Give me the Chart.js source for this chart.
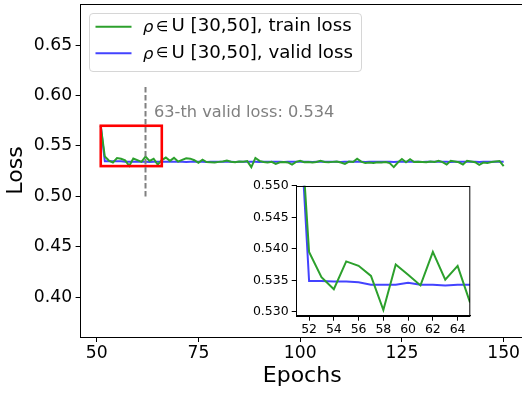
<!DOCTYPE html>
<html>
<head>
<meta charset="utf-8">
<script src="https://cdn.jsdelivr.net/npm/chart.js@4.4.0/dist/chart.umd.min.js"></script>
<style>
  html, body { margin: 0; padding: 0; background: #fff; overflow: hidden; }
  #wrap { position: relative; width: 522px; height: 393px; overflow: hidden; }
  #main { position: absolute; left: 0; top: 0; }
  #inset { position: absolute; left: 236px; top: 175px; }
</style>
</head>
<body>
<div id="wrap">
  <canvas id="main" width="530" height="393"></canvas>
  <canvas id="inset" width="244" height="162"></canvas>
</div>
<script>
// loss curves, one value per epoch starting at firstEpoch
const firstEpoch = 51;
const trainLoss = [
  0.5700, 0.5395, 0.5355, 0.5336, 0.5380, 0.5373, 0.5357, 0.5303, 0.5375, 0.5359,
  0.5342, 0.5395, 0.5351, 0.5373, 0.5315, 0.5360, 0.5385, 0.5352, 0.5382, 0.5345,
  0.5362, 0.5378, 0.5374, 0.5358, 0.5333, 0.5364, 0.5340, 0.5338, 0.5336, 0.5342,
  0.5345, 0.5355, 0.5343, 0.5338, 0.5346, 0.5344, 0.5350, 0.5290, 0.5381, 0.5352,
  0.5340, 0.5335, 0.5342, 0.5322, 0.5338, 0.5340, 0.5336, 0.5315, 0.5342, 0.5352,
  0.5338, 0.5340, 0.5336, 0.5340, 0.5353, 0.5340, 0.5338, 0.5342, 0.5345, 0.5336,
  0.5322, 0.5345, 0.5340, 0.5374, 0.5345, 0.5330, 0.5335, 0.5332, 0.5338, 0.5335,
  0.5340, 0.5330, 0.5290, 0.5336, 0.5370, 0.5338, 0.5368, 0.5340, 0.5342, 0.5340,
  0.5338, 0.5345, 0.5342, 0.5352, 0.5340, 0.5315, 0.5352, 0.5345, 0.5338, 0.5315,
  0.5352, 0.5345, 0.5338, 0.5312, 0.5335, 0.5332, 0.5340, 0.5345, 0.5350, 0.5300
];
const validLoss = [
  0.5700, 0.5349, 0.5349, 0.5348, 0.5348, 0.5347, 0.5343, 0.5343, 0.5343, 0.5346,
  0.5343, 0.5343, 0.5342, 0.5343, 0.5343, 0.5344, 0.5343, 0.5343, 0.5344, 0.5343,
  0.5343, 0.5342, 0.5343, 0.5344, 0.5343, 0.5343, 0.5342, 0.5343, 0.5343, 0.5344,
  0.5343, 0.5343, 0.5343, 0.5342, 0.5343, 0.5343, 0.5344, 0.5343, 0.5343, 0.5342,
  0.5343, 0.5344, 0.5343, 0.5343, 0.5343, 0.5342, 0.5343, 0.5343, 0.5344, 0.5343,
  0.5343, 0.5343, 0.5342, 0.5343, 0.5343, 0.5344, 0.5343, 0.5343, 0.5343, 0.5342,
  0.5343, 0.5343, 0.5344, 0.5343, 0.5343, 0.5342, 0.5343, 0.5343, 0.5343, 0.5344,
  0.5343, 0.5343, 0.5342, 0.5343, 0.5343, 0.5343, 0.5344, 0.5343, 0.5343, 0.5342,
  0.5343, 0.5343, 0.5344, 0.5343, 0.5343, 0.5343, 0.5342, 0.5343, 0.5343, 0.5344,
  0.5343, 0.5343, 0.5343, 0.5342, 0.5343, 0.5343, 0.5344, 0.5343, 0.5343, 0.5343
];
const seriesLabels = ['ρ ∈ U [30,50], train loss', 'ρ ∈ U [30,50], valid loss'];

const xTicks = [50, 75, 100, 125, 150];
const yTicks = [0.40, 0.45, 0.50, 0.55, 0.60, 0.65];
const insetXTicks = [52, 54, 56, 58, 60, 62, 64];
const insetYTicks = [0.530, 0.535, 0.540, 0.545, 0.550];

// zoom window and marker for the chosen epoch
const zoomBox = { x0: 51, x1: 66, y0: 0.53, y1: 0.57 };
const markEpoch = 62;
const markRange = [0.50, 0.61];
const markText = '63-th valid loss: 0.534';

const GREEN = '#2ca02c';
const BLUE = 'rgba(20,20,255,0.8)';
const FONT = 'DejaVu Sans';

function toPoints(values) {
  return values.map((v, i) => ({ x: firstEpoch + i, y: v }));
}

function lineSets(width) {
  return [
    { label: seriesLabels[0], data: toPoints(trainLoss), borderColor: GREEN, borderWidth: width, pointRadius: 0, tension: 0 },
    { label: seriesLabels[1], data: toPoints(validLoss), borderColor: BLUE, borderWidth: width, pointRadius: 0, tension: 0 }
  ];
}

function axis(ticks, size, pad, fmt, thickness, title) {
  return {
    type: 'linear',
    afterBuildTicks: s => { s.ticks = ticks.map(v => ({ value: v })); },
    afterFit: s => {
      if (s.isHorizontal()) s.height = thickness; else s.width = thickness;
      // keep the plot box where it is, labels may overhang
      s.paddingTop = s.paddingBottom = s.paddingLeft = s.paddingRight = 0;
    },
    ticks: { font: { family: FONT, size: size }, color: '#000', padding: pad, callback: fmt, maxRotation: 0, autoSkip: false },
    grid: { display: true, drawOnChartArea: false, drawTicks: true, tickLength: 5, color: '#000', lineWidth: 1 },
    border: { display: true, color: '#000', width: 1 },
    title: title
  };
}

// full rectangular frame round the plot area
const frame = {
  id: 'frame',
  afterDraw(chart) {
    const { ctx, chartArea: a } = chart;
    ctx.save();
    ctx.strokeStyle = '#000';
    ctx.lineWidth = 1;
    ctx.strokeRect(Math.round(a.left) - 0.5, Math.round(a.top) + 0.5, a.right - a.left, a.bottom - a.top);
    ctx.restore();
  }
};

// red box, dashed marker, annotation and legend on the main axes
const overlay = {
  id: 'overlay',
  afterDatasetsDraw(chart) {
    const { ctx, scales: { x, y } } = chart;
    ctx.save();

    ctx.strokeStyle = '#ff0000';
    ctx.lineWidth = 2.6;
    const bx = x.getPixelForValue(zoomBox.x0), by = y.getPixelForValue(zoomBox.y1);
    ctx.strokeRect(bx, by, x.getPixelForValue(zoomBox.x1) - bx, y.getPixelForValue(zoomBox.y0) - by);

    ctx.strokeStyle = '#808080';
    ctx.lineWidth = 2;
    ctx.setLineDash([5.5, 2.5]);
    ctx.beginPath();
    ctx.moveTo(x.getPixelForValue(markEpoch), y.getPixelForValue(markRange[0]));
    ctx.lineTo(x.getPixelForValue(markEpoch), y.getPixelForValue(markRange[1]));
    ctx.stroke();
    ctx.setLineDash([]);

    ctx.fillStyle = '#808080';
    ctx.font = '16.2px "' + FONT + '"';
    ctx.textBaseline = 'alphabetic';
    ctx.fillText(markText, x.getPixelForValue(markEpoch) + 8.5, 116.5);

    // legend
    const lx = 89.5, ly = 13.5, lw = 272, lh = 58;
    ctx.beginPath();
    ctx.roundRect(lx, ly, lw, lh, 3.5);
    ctx.fillStyle = 'rgba(255,255,255,0.8)';
    ctx.fill();
    ctx.strokeStyle = 'rgba(204,204,204,0.8)';
    ctx.lineWidth = 1;
    ctx.stroke();

    const colors = [GREEN, BLUE];
    seriesLabels.forEach((label, i) => {
      const ry = 26.7 + i * 26.6;
      ctx.strokeStyle = colors[i];
      ctx.lineWidth = 2;
      ctx.beginPath();
      ctx.moveTo(95.5, ry);
      ctx.lineTo(131.5, ry);
      ctx.stroke();
      ctx.fillStyle = '#000';
      ctx.textBaseline = 'middle';
      const parts = label.split(' ');
      // ρ and ∈ set like math symbols, then the plain text
      ctx.font = 'italic 16.4px "' + FONT + '"';
      ctx.fillText(parts[0], 143, ry + 1);
      ctx.font = '14px "' + FONT + '"';
      ctx.fillText(parts[1], 156, ry + 0.5);
      ctx.font = '18.2px "' + FONT + '"';
      ctx.fillText(parts.slice(2).join(' '), 171.5, ry);
    });
    ctx.restore();
  }
};

new Chart(document.getElementById('main'), {
  type: 'line',
  data: { datasets: lineSets(2) },
  options: {
    responsive: false,
    animation: false,
    devicePixelRatio: 1,
    layout: { padding: { top: 4, right: 6.2, left: 0, bottom: 0 } },
    plugins: { legend: { display: false }, tooltip: { enabled: false } },
    scales: {
      x: Object.assign(axis(xTicks, 17.2, 1, v => v, 56,
        { display: true, text: 'Epochs', color: '#000', font: { family: FONT, size: 22 }, padding: { top: 0, bottom: 4 } }),
        { min: 46.05, max: 154.95 }),
      y: Object.assign(axis(yTicks, 17.2, 3.5, v => v.toFixed(2), 80.6,
        { display: true, text: 'Loss', color: '#000', font: { family: FONT, size: 22 }, padding: { top: 3, bottom: 0 } }),
        { min: 0.3606, max: 0.6907 })
    }
  },
  plugins: [overlay, frame]
});

// white face for the inset axes
const insetFace = {
  id: 'insetFace',
  beforeDraw(chart) {
    const { ctx, chartArea: a } = chart;
    ctx.save();
    ctx.fillStyle = '#fff';
    ctx.fillRect(a.left, a.top, a.right - a.left, a.bottom - a.top);
    ctx.restore();
  }
};

new Chart(document.getElementById('inset'), {
  type: 'line',
  data: { datasets: lineSets(2) },
  options: {
    responsive: false,
    animation: false,
    devicePixelRatio: 1,
    layout: { padding: { top: 10.7, right: 10, left: 0, bottom: 0 } },
    plugins: { legend: { display: false }, tooltip: { enabled: false } },
    scales: {
      x: Object.assign(axis(insetXTicks, 12.5, 2, v => v, 21.3, { display: false }),
        { min: 51, max: 65 }),
      y: Object.assign(axis(insetYTicks, 12.5, 3, v => v.toFixed(3), 60.7, { display: false }),
        { min: 0.5294, max: 0.550 })
    }
  },
  plugins: [insetFace, frame]
});
</script>
</body>
</html>
